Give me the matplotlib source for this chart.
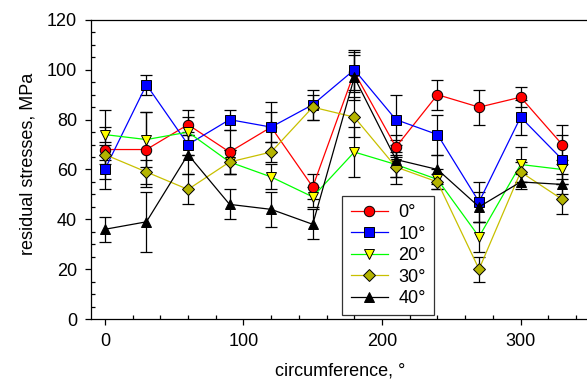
import matplotlib
matplotlib.use("Agg")
import matplotlib.pyplot as plt
from matplotlib.ticker import MultipleLocator

plt.rcParams["font.family"] = ["Liberation Sans", "DejaVu Sans"]

# circumference positions, degrees
angles = [0, 30, 60, 90, 120, 150, 180, 210, 240, 270, 300, 330]

# residual stresses (MPa) per tilt angle, with error bar half-widths
s0 = [68, 68, 78, 67, 77, 53, 99, 69, 90, 85, 89, 70]
e0 = [16, 15, 3, 9, 10, 5, 8, 3, 6, 7, 4, 8]
s10 = [60, 94, 70, 80, 77, 86, 100, 80, 74, 47, 81, 64]
e10 = [4, 4, 4, 4, 6, 6, 8, 10, 8, 8, 7, 10]
s20 = [74, 72, 75, 63, 57, 49, 67, 62, 56, 33, 62, 60]
e20 = [3, 11, 9, 5, 5, 4, 10, 5, 4, 6, 7, 4]
s30 = [66, 59, 52, 63, 67, 85, 81, 61, 55, 20, 59, 48]
e30 = [4, 5, 6, 5, 4, 5, 8, 4, 3, 5, 4, 6]
s40 = [36, 39, 66, 46, 44, 38, 97, 64, 60, 45, 55, 54]
e40 = [5, 12, 8, 6, 7, 6, 9, 10, 6, 6, 3, 4]

labels = ["0°", "10°", "20°", "30°", "40°"]
values = [s0, s10, s20, s30, s40]
errors = [e0, e10, e20, e30, e40]
line_colors = ["#ff0000", "#0000ff", "#00ff00", "#c8c000", "#000000"]
face_colors = ["#ff0000", "#0000ff", "#ffff00", "#b4b400", "#000000"]
markers = ["o", "s", "v", "D", "^"]
sizes = [7.5, 7, 7.5, 6.5, 7.5]

fig = plt.figure(figsize=(5.87, 3.83), dpi=100)
ax = fig.add_axes([0.155, 0.167, 0.850, 0.781])

handles = []
for vals, errs, lab, lc, fc, mk, ms in zip(values, errors, labels, line_colors,
                                           face_colors, markers, sizes):
    ax.errorbar(angles, vals, yerr=errs, fmt="none", ecolor="black",
                elinewidth=0.9, capsize=4, capthick=0.9, zorder=2)
    h, = ax.plot(angles, vals, color=lc, lw=0.9, marker=mk, ms=ms,
                 mfc=fc, mec="black", mew=0.7, label=lab, zorder=3)
    handles.append(h)

ax.set_xlim(-10, 350)
ax.set_ylim(0, 120)
ax.xaxis.set_major_locator(MultipleLocator(100))
ax.xaxis.set_minor_locator(MultipleLocator(20))
ax.yaxis.set_major_locator(MultipleLocator(20))
ax.yaxis.set_minor_locator(MultipleLocator(5))
ax.tick_params(which="major", direction="out", length=4, width=0.9,
               labelsize=13, pad=6)
ax.tick_params(which="minor", direction="in", length=3, width=0.9)
ax.spines["right"].set_visible(False)
for sp in ["left", "bottom", "top"]:
    ax.spines[sp].set_linewidth(0.9)

ax.set_xlabel("circumference, °", fontsize=13, labelpad=9)
ax.set_ylabel("residual stresses, MPa", fontsize=13)
ax.yaxis.set_label_coords(-0.11, 0.52)

leg = ax.legend(handles=handles, loc="lower left", bbox_to_anchor=(0.504, 0.012),
                fontsize=13, frameon=True, fancybox=False, edgecolor="black",
                handlelength=2.05, handletextpad=0.6, labelspacing=0.25,
                borderpad=0.45, borderaxespad=0)
leg.get_frame().set_linewidth(0.9)

fig.savefig("out.png", dpi=100)
